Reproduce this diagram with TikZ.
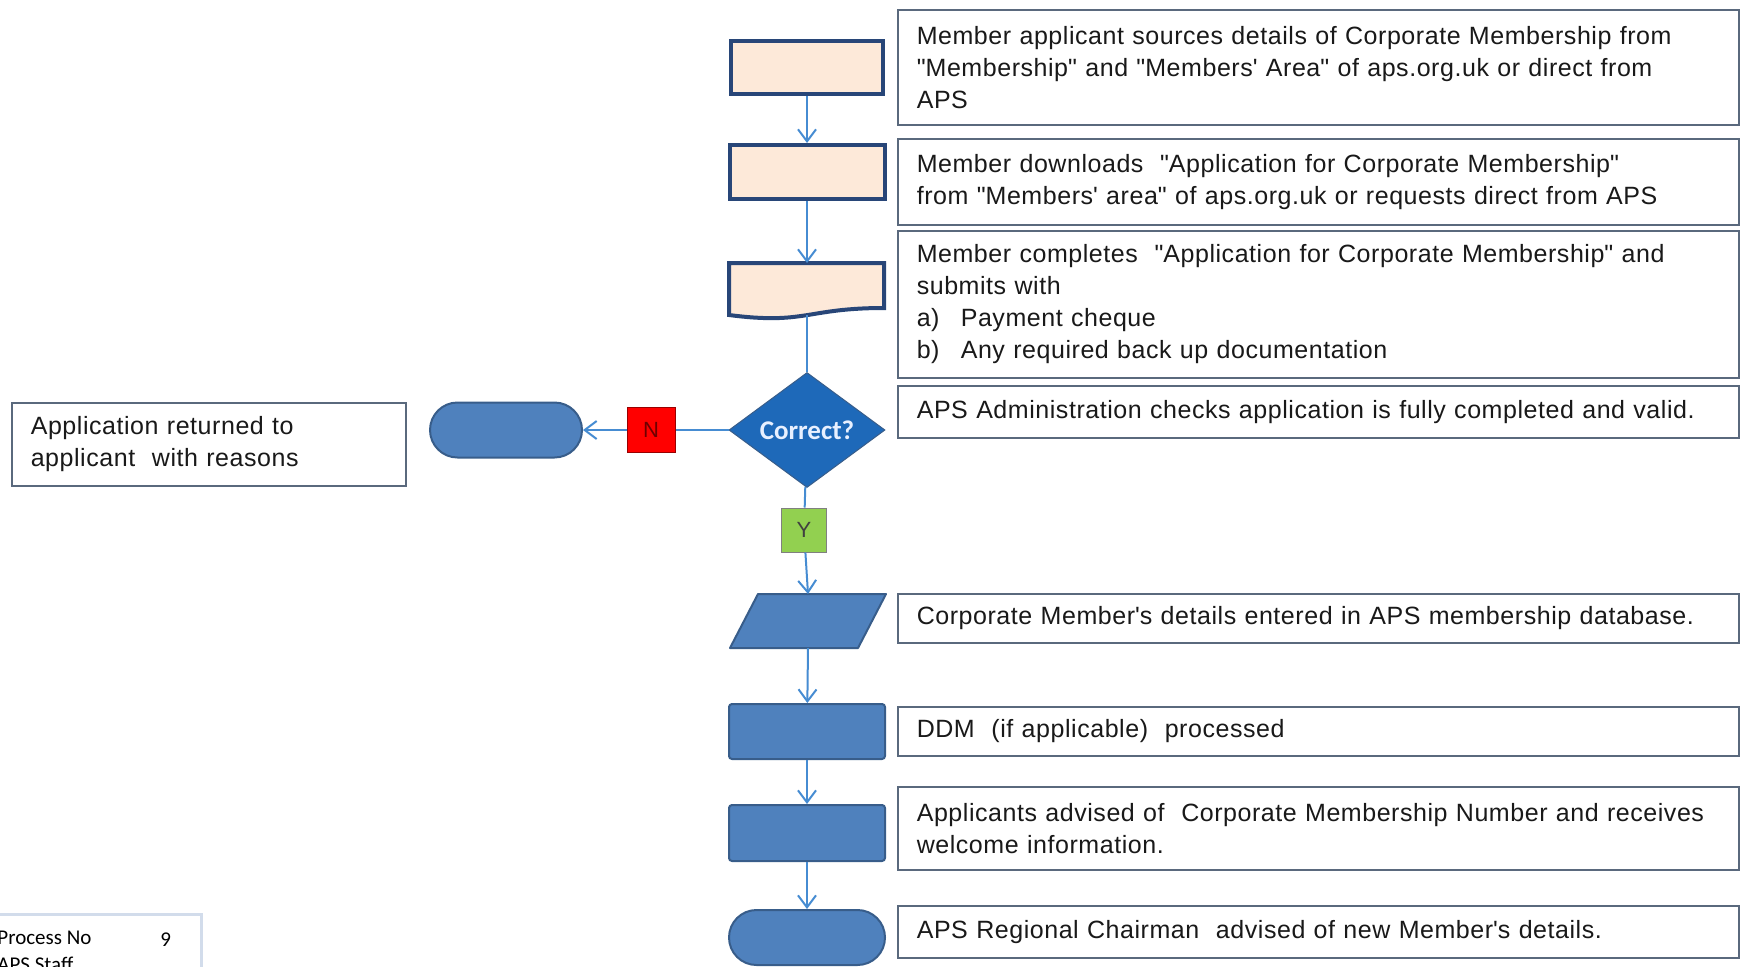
\documentclass[tikz,border=0pt]{standalone}
\usepackage{fontspec}
\setmainfont{Liberation Sans}
\newfontfamily\notefont{Liberation Sans}[LetterSpace=2.2]
\newfontfamily\calfont{Carlito}
\usetikzlibrary{shapes.geometric,arrows.meta}

\definecolor{peach}{RGB}{253,233,217}
\definecolor{navy}{RGB}{40,70,120}
\definecolor{boxblue}{RGB}{79,129,189}
\definecolor{boxedge}{RGB}{56,93,138}
\definecolor{diablue}{RGB}{30,105,185}
\definecolor{arrowblue}{RGB}{70,140,210}
\definecolor{notegray}{RGB}{90,105,125}
\definecolor{palegray}{RGB}{210,220,235}
\definecolor{yesgreen}{RGB}{146,208,80}
\definecolor{nored}{RGB}{255,0,0}

\newcommand{\dq}{\textquotedbl}
\newcommand{\ap}{\textquotesingle}

\begin{document}
\begin{tikzpicture}[x=0.5pt,y=-0.5pt,
    flow/.style={draw=arrowblue, line width=1pt, -{Straight Barb[length=6pt,width=9pt]}},
    link/.style={draw=arrowblue, line width=1pt},
    peachbox/.style={draw=navy, fill=peach, line width=2pt, inner sep=0pt},
    bluebox/.style={draw=boxedge, fill=boxblue, line width=1pt, rounded corners=1.5pt, inner sep=0pt},
    terminal/.style={bluebox, rounded corners=13.75pt},
    note/.style={draw=notegray, line width=0.8pt, fill=white, anchor=north west,
        text width=401.5pt, inner xsep=9.5pt, inner ysep=0pt, align=left,
        text=black!90, font=\notefont\fontsize{12.5}{16}\selectfont},
  ]
    \useasboundingbox (0,0) rectangle (1741,966);
    \clip (0,0) rectangle (1741,966);

    % Process steps down the middle
    \node[peachbox, minimum width=76pt, minimum height=26.5pt] (s1) at (807,67.5) {};
    \node[peachbox, minimum width=77.5pt, minimum height=27pt] (s2) at (807,172) {};

    % Document shape with wavy bottom
    \draw[peachbox] (729,263) -- (884,263) -- (884,308)
        .. controls (806,308) and (806,325) .. (729,315) -- cycle;
    \coordinate (doctop) at (807,263);
    \coordinate (docbot) at (807,315);

    % Decision
    \node[diamond, draw=boxedge, fill=diablue, line width=0.5pt, inner sep=0pt,
        minimum width=78pt, minimum height=57.5pt,
        text={rgb,255:red,232;green,240;blue,255}, font=\calfont\bfseries\fontsize{13.5}{15}\selectfont]
        (dia) at (807,430) {Correct?};
    \node[draw=red!60!black, fill=nored, line width=0.5pt, minimum width=24pt, minimum height=22.5pt,
        inner sep=0pt, text={rgb,255:red,110;green,0;blue,0}, font=\fontsize{11}{12}\selectfont]
        (no) at (651,430) {N};
    \node[terminal, minimum width=76pt, minimum height=27.5pt] (ret) at (506,430) {};
    \node[draw=gray, fill=yesgreen, line width=0.5pt, minimum width=22.5pt, minimum height=22pt,
        inner sep=0pt, text=black!75, font=\fontsize{11}{12}\selectfont]
        (yes) at (804,530) {Y};

    % Data entry parallelogram
    \draw[draw=boxedge, fill=boxblue, line width=1pt, line join=round]
        (758,594) -- (886,594) -- (858,648) -- (730,648) -- cycle;
    \coordinate (paratop) at (808,594);
    \coordinate (parabot) at (808,648);

    % Remaining steps
    \node[bluebox, minimum width=78pt, minimum height=27.5pt] (s6) at (807,731.5) {};
    \node[bluebox, minimum width=78pt, minimum height=28pt] (s7) at (807,833) {};
    \node[terminal, minimum width=78pt, minimum height=27.5pt] (s8) at (807,937.5) {};

    % Connectors
    \draw[flow] (s1) -- (s2);
    \draw[flow] (s2) -- (doctop);
    \draw[link] (docbot) -- (dia);
    \draw[link] (dia) -- (no);
    \draw[flow] (no) -- (ret);
    \draw[link] (dia) -- (yes);
    \draw[flow] (yes) -- (paratop);
    \draw[flow] (parabot) -- (s6);
    \draw[flow] (s6) -- (s7);
    \draw[flow] (s7) -- (s8);

    % Descriptions on the right
    \node[note, minimum height=57.5pt] (t1) at (897,9)
        {Member applicant sources details of Corporate Membership from\\
         \dq Membership\dq{} and \dq Members\ap{} Area\dq{} of aps.org.uk or direct from\\
         APS};
    \node[note, minimum height=43pt] (t2) at (897,138)
        {Member downloads \ \dq Application for Corporate Membership\dq\\
         from \dq Members\ap{} area\dq{} of aps.org.uk or requests direct from APS};
    \node[note, minimum height=73.5pt] (t3) at (897,230)
        {Member completes \ \dq Application for Corporate Membership\dq{} and\\
         submits with\\
         \makebox[22pt][l]{a)}Payment cheque\\
         \makebox[22pt][l]{b)}Any required back up documentation};
    \node[note, minimum height=26pt] (t4) at (897,385)
        {APS Administration checks application is fully completed and valid.};
    \node[note, minimum height=24.5pt] (t5) at (897,593)
        {Corporate Member\ap s details entered in APS membership database.};
    \node[note, minimum height=24.5pt] (t6) at (897,706)
        {DDM \ (if applicable) \ processed};
    \node[note, minimum height=41.5pt] (t7) at (897,786)
        {Applicants advised of \ Corporate Membership Number and receives\\
         welcome information.};
    \node[note, minimum height=26pt] (t8) at (897,905)
        {APS Regional Chairman \ advised of new Member\ap s details.};

    % Note on the left
    \node[note, text width=178pt, minimum height=41.5pt] (t0) at (11,402)
        {Application returned to\\
         applicant \ with reasons};

    % Process number box, cut off at the page edge
    \node[draw=palegray, fill=white, line width=1.5pt, anchor=north west,
        minimum width=105pt, minimum height=40pt] (proc) at (-10,913) {};
    \node[anchor=west, inner sep=0pt, font=\calfont\fontsize{10.5}{12}\selectfont] (procname) at (-3,938) {Process No};
    \node[anchor=west, inner sep=0pt, font=\calfont\fontsize{10.5}{12}\selectfont] (procnum) at (160,940) {9};
    \node[anchor=west, inner sep=0pt, font=\calfont\fontsize{10.5}{12}\selectfont] (procstaff) at (-3,964) {APS Staff};
\end{tikzpicture}
\end{document}
